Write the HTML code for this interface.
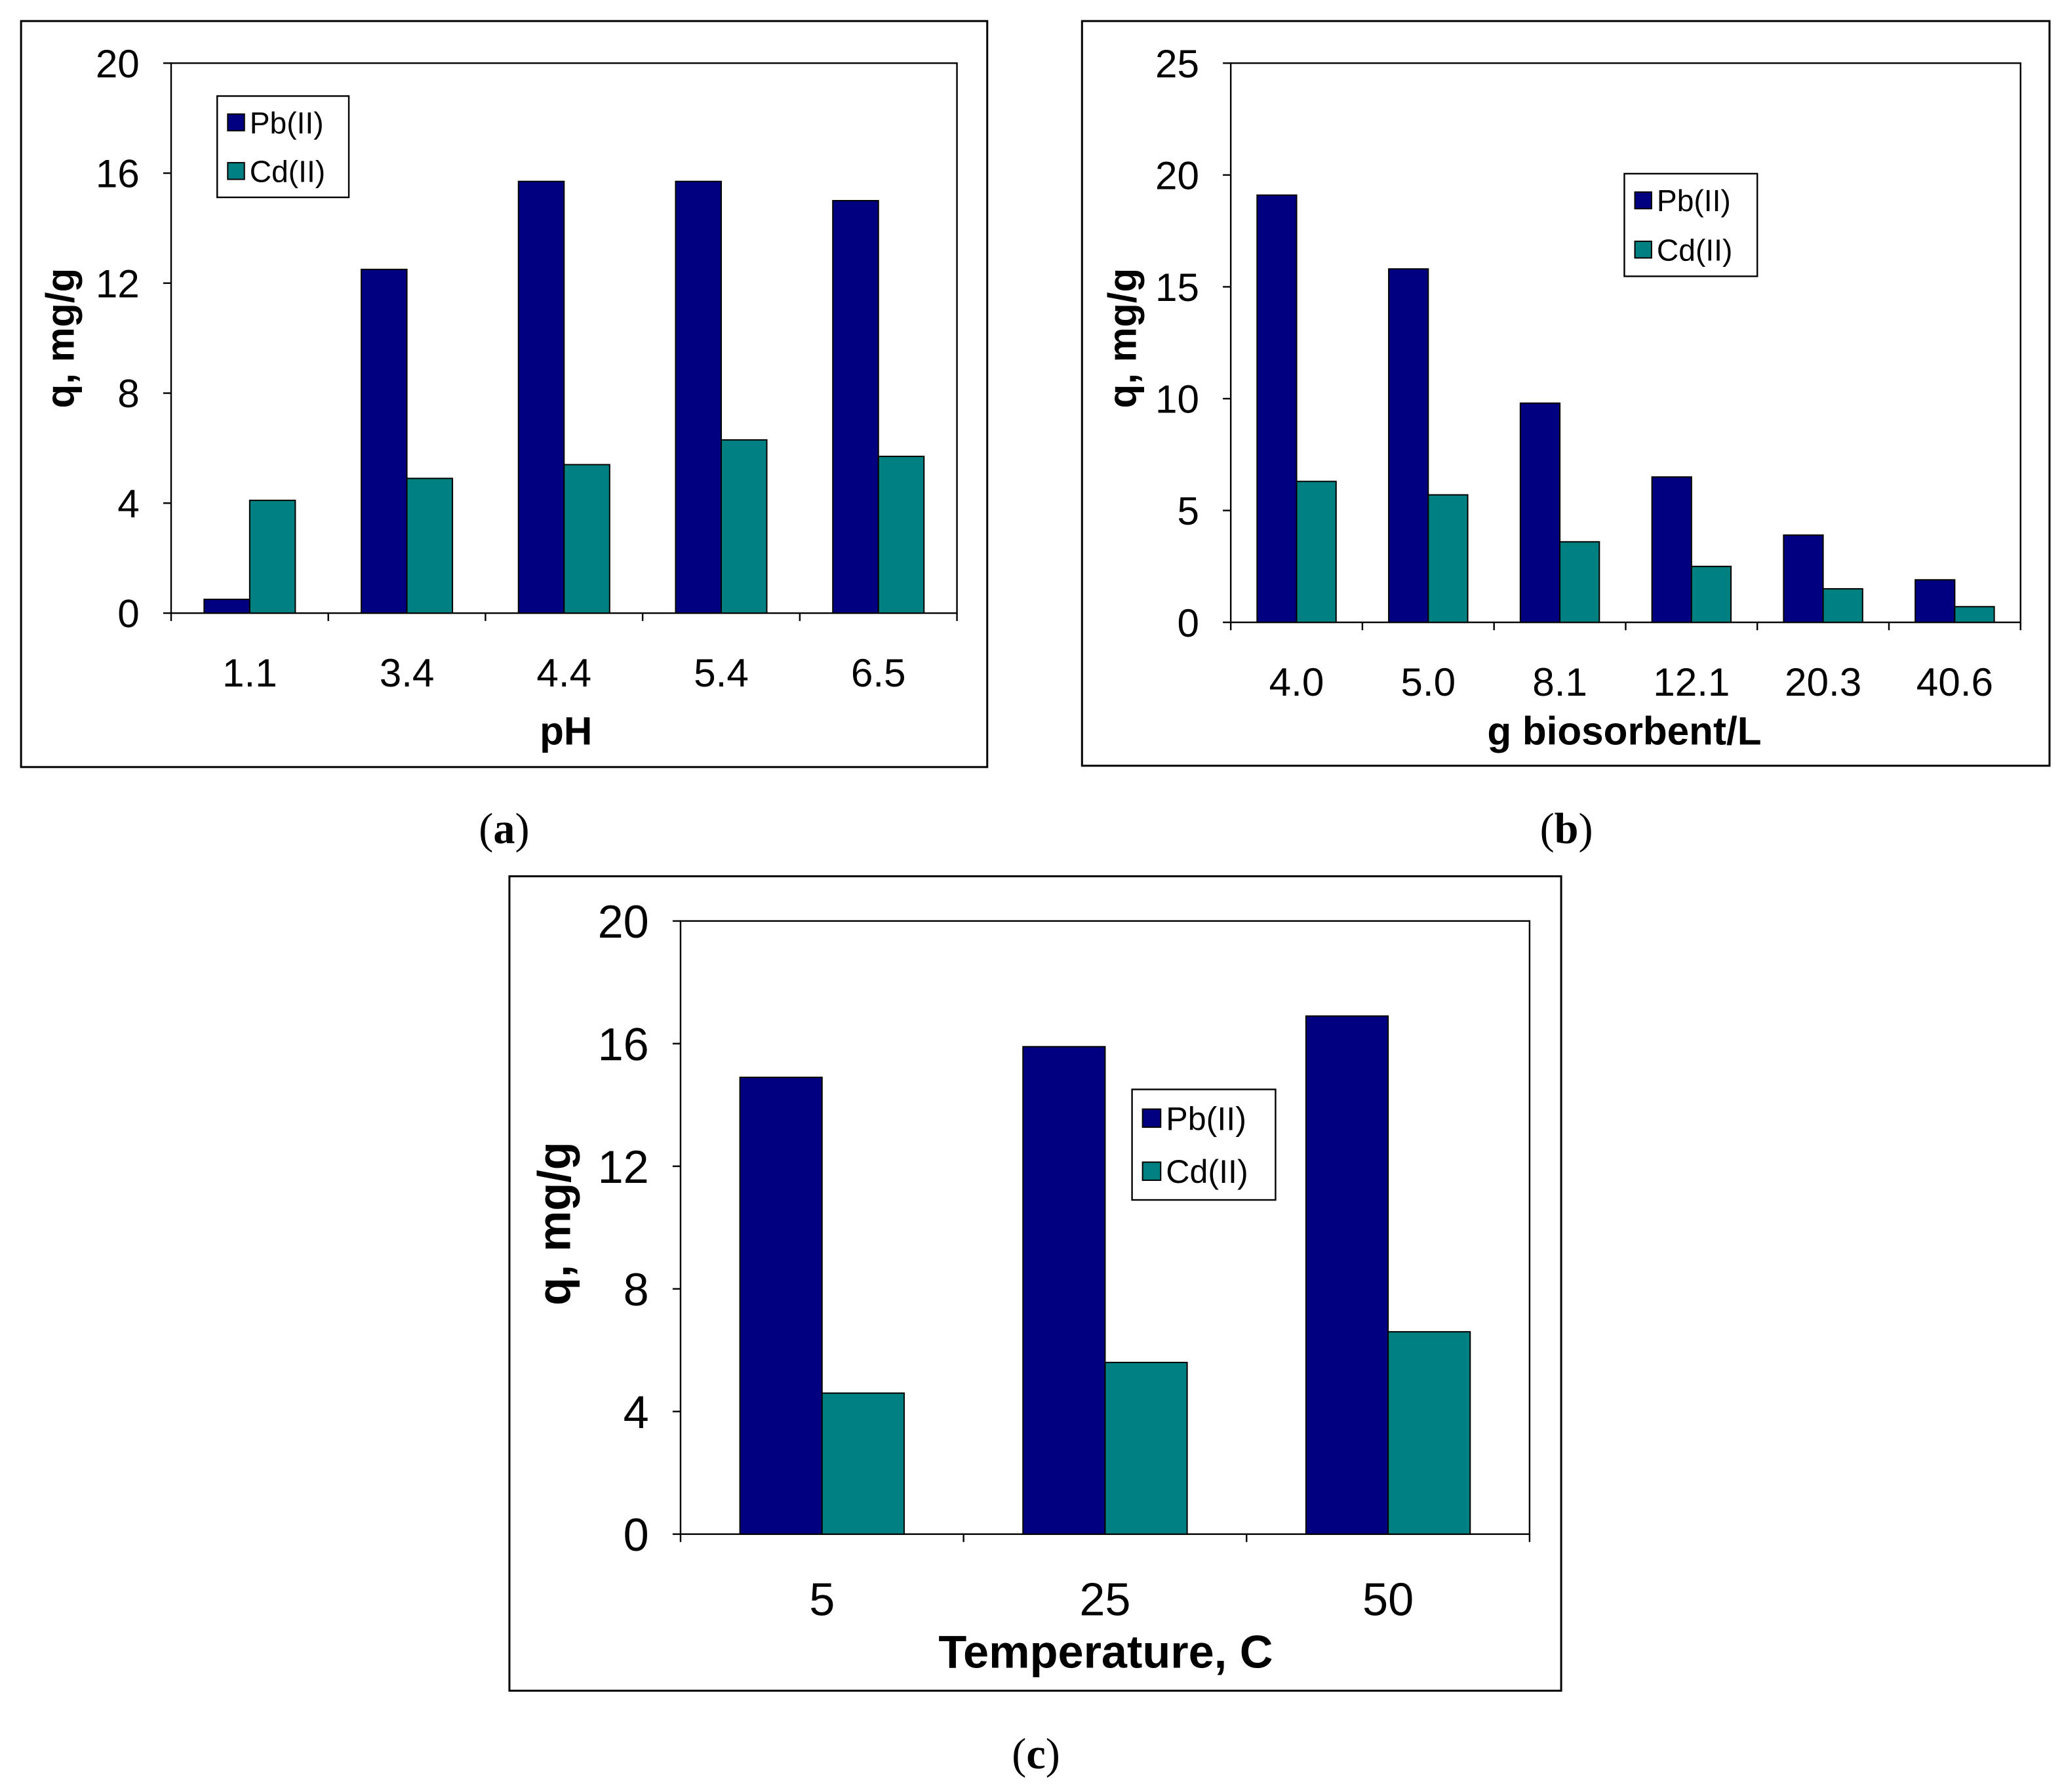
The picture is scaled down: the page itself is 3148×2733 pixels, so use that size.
<!DOCTYPE html>
<html><head><meta charset="utf-8"><style>
html,body{margin:0;padding:0;background:#fff}
svg{display:block}
</style></head><body>
<svg id="fig" width="3148" height="2733" viewBox="0 0 1568 1362" preserveAspectRatio="none" xmlns="http://www.w3.org/2000/svg" font-family="Liberation Sans, Arial, sans-serif"></svg>
<script>
const catsA=["1.1","3.4","4.4","5.4","6.5"];
const pbA=[0.5,12.5,15.7,15.7,15.0];
const cdA=[4.1,4.9,5.4,6.3,5.7];
const ticksA=[0,4,8,12,16,20];
const catsB=["4.0","5.0","8.1","12.1","20.3","40.6"];
const pbB=[19.1,15.8,9.8,6.5,3.9,1.9];
const cdB=[6.3,5.7,3.6,2.5,1.5,0.7];
const ticksB=[0,5,10,15,20,25];
const catsC=["5","25","50"];
const pbC=[14.9,15.9,16.9];
const cdC=[4.6,5.6,6.6];
const ticksC=[0,4,8,12,16,20];
const NS="http://www.w3.org/2000/svg";
const svg=document.getElementById('fig');
function mk(tag,attrs,parent,txt){const e=document.createElementNS(NS,tag);for(const k in attrs)e.setAttribute(k,attrs[k]);if(txt!==undefined)e.textContent=txt;(parent||svg).appendChild(e);return e;}
function chart(cfg){
  const g=mk('g',{});
  
  
  const o=mk('rect',{x:cfg.ox,y:cfg.oy,width:cfg.ow,height:cfg.oh,fill:'#fff',stroke:'#000','stroke-width':1.5},g);
  
  const p=mk('rect',{x:cfg.px,y:cfg.py,width:cfg.pw,height:cfg.ph,fill:'#fff',stroke:'#000','stroke-width':1.2},g);
  
  const ymax=cfg.ticks[cfg.ticks.length-1];
  const y=v=>cfg.py+cfg.ph-v/ymax*cfg.ph;
  const n=cfg.cats.length,cw=cfg.pw/n;
  const x=i=>cfg.px+cw*(i+0.5);
  cfg.ticks.forEach(t=>{
    mk('line',{x1:cfg.px-6,x2:cfg.px,y1:y(t),y2:y(t),stroke:'#000','stroke-width':1.2},g);
    const tl=mk('text',{x:cfg.px-24,y:y(t)+cfg.fs*0.36,'font-size':cfg.fs,'text-anchor':'end'},g,String(t));
    
  });
  for(let i=0;i<=n;i++){mk('line',{x1:cfg.px+cw*i,x2:cfg.px+cw*i,y1:cfg.py+cfg.ph,y2:cfg.py+cfg.ph+6,stroke:'#000','stroke-width':1.2},g);}
  const bw=cw*cfg.bf;
  cfg.cats.forEach((c,i)=>{
    const b1=mk('rect',{x:x(i)-bw,y:y(cfg.pb[i]),width:bw,height:y(0)-y(cfg.pb[i]),fill:'#000080',stroke:'#000','stroke-width':1},g);
    
    const b2=mk('rect',{x:x(i),y:y(cfg.cd[i]),width:bw,height:y(0)-y(cfg.cd[i]),fill:'#008080',stroke:'#000','stroke-width':1},g);
    
    const tl=mk('text',{x:x(i),y:cfg.xly+cfg.fs*0.36,'font-size':cfg.fs,'text-anchor':'middle'},g,c);
    
  });
  const xt=mk('text',{x:cfg.xtx,y:cfg.xty+cfg.fs*0.36,'font-size':cfg.fs,'font-weight':'bold','text-anchor':'middle'},g,cfg.xtitle);
  
  const yt=mk('text',{x:0,y:0,'font-size':cfg.fs,'font-weight':'bold','text-anchor':'middle',transform:`translate(${cfg.ytx},${cfg.yty}) rotate(-90)`},g,'q, mg/g');
  
  const L=cfg.leg;
  const lg=mk('g',{},g);
  mk('rect',{x:L.x,y:L.y,width:L.w,height:L.h,fill:'#fff',stroke:'#000','stroke-width':1.2},lg);
  [['Pb(II)','#000080'],['Cd(II)','#008080']].forEach((e,k)=>{
    const cy=L.y+L.h*(k===0?0.26:0.74);
    const s=L.fs*0.55;
    mk('rect',{x:L.x+8,y:cy-s/2,width:s,height:s,fill:e[1],stroke:'#000','stroke-width':1},lg);
    const t=mk('text',{x:L.x+12+s,y:cy+L.fs*0.36,'font-size':L.fs},lg,e[0]);
    
  });
  const pl=mk('text',{x:cfg.lx,y:cfg.ly,'font-size':33,'text-anchor':'middle',style:'font-family:"Liberation Serif",serif'},g,'');
  
  pl.innerHTML='(<tspan font-weight="bold">'+cfg.label+'</tspan>)';
}
chart({name:'chart-a',ox:16,oy:16,ow:734,oh:567,px:130,py:48,pw:597,ph:418,cats:catsA,pb:pbA,cd:cdA,ticks:ticksA,bf:0.29,fs:30,xly:511,xtitle:'pH',xtx:430,xty:555,ytx:56,yty:257,leg:{x:165,y:73,w:100,h:77,fs:23},label:'a',lx:383,ly:641});
chart({name:'chart-b',ox:822,oy:16,ow:735,oh:566,px:935,py:48,pw:600,ph:425,cats:catsB,pb:pbB,cd:cdB,ticks:ticksB,bf:0.3,fs:30,xly:518,xtitle:'g biosorbent/L',xtx:1234,xty:555,ytx:863,yty:257,leg:{x:1234,y:132,w:101,h:78,fs:23},label:'b',lx:1190,ly:641});
chart({name:'chart-c',ox:387,oy:666,ow:799,oh:619,px:517,py:700,pw:645,ph:466,cats:catsC,pb:pbC,cd:cdC,ticks:ticksC,bf:0.29,fs:35,xly:1215,xtitle:'Temperature, C',xtx:840,xty:1255,ytx:433,yty:930,leg:{x:860,y:828,w:109,h:84,fs:25},label:'c',lx:787,ly:1344});
</script>
</body></html>
